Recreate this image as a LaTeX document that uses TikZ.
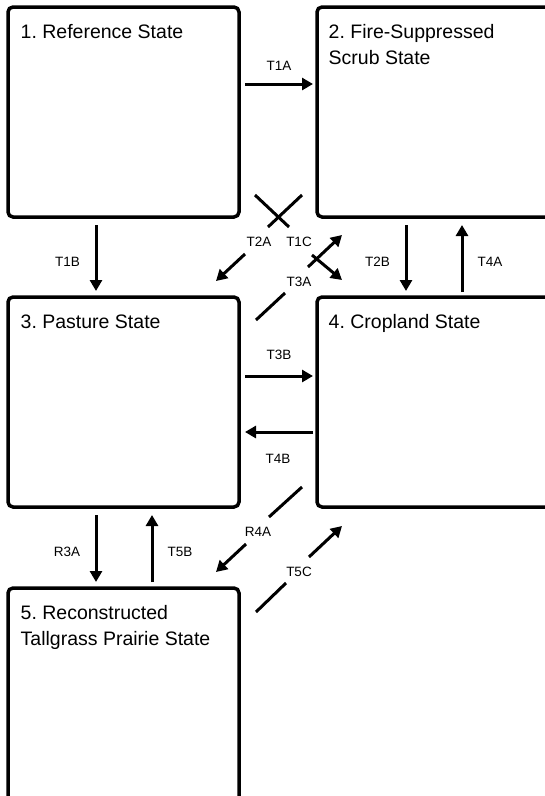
\documentclass[tikz,border=0pt]{standalone}
\usepackage{fontspec}
\setmainfont{Liberation Sans}
\usetikzlibrary{arrows.meta}
\frenchspacing
\begin{document}
\begin{tikzpicture}[x=1pt,y=-1pt,
  statebox/.style={draw=black,line width=3.5pt,rounded corners=5pt,inner sep=0pt},
  title/.style={anchor=base west,inner sep=0pt,align=left,font=\fontsize{19.5}{26}\selectfont},
  lbl/.style={inner sep=0pt,font=\fontsize{13.5}{16}\selectfont},
  conn/.style={line width=3pt},
  arr/.style={line width=3pt,-{Triangle[length=11pt,width=12pt]}}]
\useasboundingbox (0,0) rectangle (545,796);
\clip (0,0) rectangle (545,796);
% state boxes
\node[statebox,minimum width=231pt,minimum height=210pt] (b1) at (123.5,112) {};
\node[statebox,minimum width=243pt,minimum height=210pt] (b2) at (438.5,112) {};
\node[statebox,minimum width=231pt,minimum height=210pt] (b3) at (123.5,402) {};
\node[statebox,minimum width=243pt,minimum height=210pt] (b4) at (438.5,402) {};
\node[statebox,minimum width=231pt,minimum height=222pt] (b5) at (123.5,699) {};
% titles (base anchor = baseline of the last line)
\node[title] (t1) at (20.5,38) {1. Reference State};
\node[title] (t2) at (328.5,64) {2. Fire-Suppressed\\Scrub State};
\node[title] (t3) at (20.5,328) {3. Pasture State};
\node[title] (t4) at (328.5,328) {4. Cropland State};
\node[title] (t5) at (20.5,645) {5. Reconstructed\\Tallgrass Prairie State};
% coordinates of straight transitions
\coordinate (T1As) at (245,84);  \coordinate (T1Ae) at (313,84);
\coordinate (T1Bs) at (96,225);  \coordinate (T1Be) at (96,291);
\coordinate (T2Bs) at (406,225); \coordinate (T2Be) at (406,291);
\coordinate (T4As) at (462,292); \coordinate (T4Ae) at (462,225);
\coordinate (T3Bs) at (245,376); \coordinate (T3Be) at (313,376);
\coordinate (T4Bs) at (313,432); \coordinate (T4Be) at (245,432);
\coordinate (R3As) at (96,515);  \coordinate (R3Ae) at (96,582);
\coordinate (T5Bs) at (152,582); \coordinate (T5Be) at (152,515);
\draw[arr] (T1As) -- (T1Ae);
\draw[arr] (T1Bs) -- (T1Be);
\draw[arr] (T2Bs) -- (T2Be);
\draw[arr] (T4As) -- (T4Ae);
\draw[arr] (T3Bs) -- (T3Be);
\draw[arr] (T4Bs) -- (T4Be);
\draw[arr] (R3As) -- (R3Ae);
\draw[arr] (T5Bs) -- (T5Be);
\node[lbl] (lT1A) at (279,66) {T1A};
\node[lbl] (lT1B) at (67.5,262) {T1B};
\node[lbl] (lT2B) at (377.5,262) {T2B};
\node[lbl] (lT4A) at (490,262) {T4A};
\node[lbl] (lT3B) at (279,355) {T3B};
\node[lbl] (lT4B) at (278,459) {T4B};
\node[lbl] (lR3A) at (67,552) {R3A};
\node[lbl] (lT5B) at (180,552) {T5B};
% diagonal transitions, interrupted by their labels
\coordinate (T2As) at (302,195); \coordinate (T2Ag1) at (268,227);
\coordinate (T2Ag2) at (245,254); \coordinate (T2Ae) at (216,281);
\coordinate (T1Cs) at (255,195); \coordinate (T1Cg1) at (289,227);
\coordinate (T1Cg2) at (312,255); \coordinate (T1Ce) at (342,280);
\coordinate (T3As) at (256,320); \coordinate (T3Ag1) at (285,293);
\coordinate (T3Ag2) at (308,267); \coordinate (T3Ae) at (342,235);
\coordinate (R4As) at (302,487); \coordinate (R4Ag1) at (269,517);
\coordinate (R4Ag2) at (246,544); \coordinate (R4Ae) at (216,572);
\coordinate (T5Cs) at (256,612); \coordinate (T5Cg1) at (286,583);
\coordinate (T5Cg2) at (309,557); \coordinate (T5Ce) at (342,526);
\draw[conn] (T2As) -- (T2Ag1); \draw[arr] (T2Ag2) -- (T2Ae);
\draw[conn] (T1Cs) -- (T1Cg1); \draw[arr] (T1Cg2) -- (T1Ce);
\draw[conn] (T3As) -- (T3Ag1); \draw[arr] (T3Ag2) -- (T3Ae);
\draw[conn] (R4As) -- (R4Ag1); \draw[arr] (R4Ag2) -- (R4Ae);
\draw[conn] (T5Cs) -- (T5Cg1); \draw[arr] (T5Cg2) -- (T5Ce);
\node[lbl] (lT2A) at (259,242) {T2A};
\node[lbl] (lT1C) at (299,242) {T1C};
\node[lbl] (lT3A) at (299,282) {T3A};
\node[lbl] (lR4A) at (258,532) {R4A};
\node[lbl] (lT5C) at (299,572) {T5C};
\end{tikzpicture}
\end{document}
